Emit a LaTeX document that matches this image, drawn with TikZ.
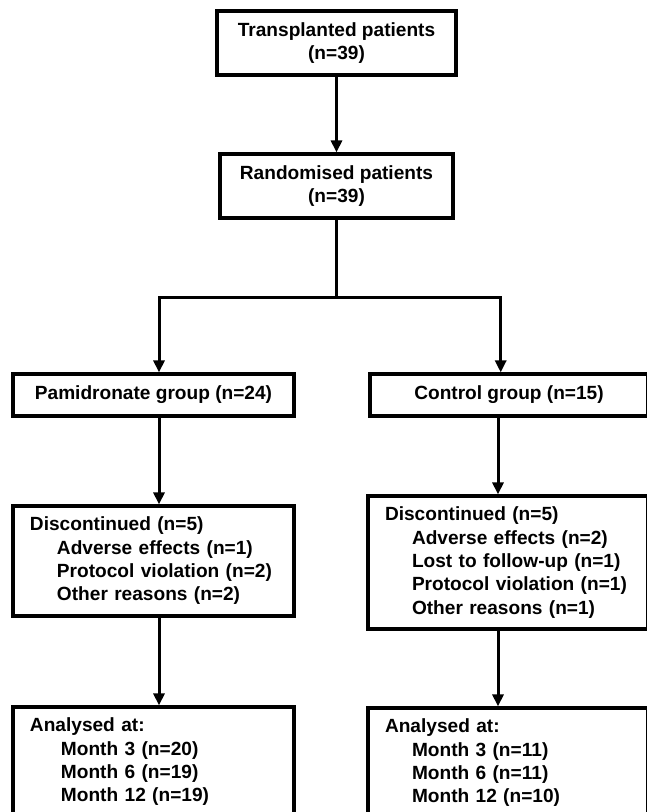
\documentclass[tikz,border=0pt]{standalone}
\usepackage{fontspec}
\setmainfont{Liberation Sans}
\usepackage{tikz}
\usetikzlibrary{shapes}
\usetikzlibrary{arrows.meta}

\begin{document}
\begin{tikzpicture}[x=1pt,y=-1pt]
	\tikzset{box/.style = {shape=rectangle,draw,line width=3.2pt,
			inner sep = 0pt,
			font=\fontsize{19.1}{23.3}\selectfont\bfseries}}
	\tikzset{listbox/.style = {box,align=left,text width=#1}}
	\tikzset{edge/.style = {-{Triangle[length=12pt,width=11pt]}, line width=3pt}}
	\tikzset{trunk/.style = {line width=3pt}}
	
	\useasboundingbox (0,0) rectangle (647,812);
	\clip (0,0) rectangle (647,812);
	
	% vertices
	\node[box, minimum width=239pt, minimum height=64pt, align=center] (trans) at (336.5,43) {Transplanted patients\\(n=39)};
	\node[box, minimum width=233pt, minimum height=64pt, align=center] (rand) at (336.5,186) {Randomised patients\\(n=39)};
	
	\node[box, minimum width=281pt, minimum height=42pt] (pam) at (153.5,395) {Pamidronate group (n=24)};
	\node[box, minimum width=278pt, minimum height=42pt] (ctrl) at (509,395) {Control group (n=15)};
	
	\node[listbox=247pt, minimum width=281pt, minimum height=110pt] (pamdisc) at (153.5,561)
	{Discontinued (n=5)\\
		\hspace*{27pt}Adverse effects (n=1)\\
		\hspace*{27pt}Protocol violation (n=2)\\
		\hspace*{27pt}Other reasons (n=2)};
	\node[listbox=246pt, minimum width=280pt, minimum height=133pt] (ctrldisc) at (508,562.5)
	{Discontinued (n=5)\\
		\hspace*{27pt}Adverse effects (n=2)\\
		\hspace*{27pt}Lost to follow-up (n=1)\\
		\hspace*{27pt}Protocol violation (n=1)\\
		\hspace*{27pt}Other reasons (n=1)};
	
	\node[listbox=247pt, minimum width=281pt, minimum height=110pt] (pamana) at (153.5,762)
	{Analysed at:\\
		\hspace*{31pt}Month 3 (n=20)\\
		\hspace*{31pt}Month 6 (n=19)\\
		\hspace*{31pt}Month 12 (n=19)};
	\node[listbox=246pt, minimum width=280pt, minimum height=110pt] (ctrlana) at (508,763)
	{Analysed at:\\
		\hspace*{27pt}Month 3 (n=11)\\
		\hspace*{27pt}Month 6 (n=11)\\
		\hspace*{27pt}Month 12 (n=10)};
	
	\coordinate (split) at (336.5,297);
	
	%edges
	\draw[edge] (trans) to (rand);
	\draw[trunk] (rand) to (split);
	\draw[edge] (split) -| ([xshift=5.5pt]pam.north);
	\draw[edge] (split) -| ([xshift=-8.3pt]ctrl.north);
	
	\draw[edge] ([xshift=5.5pt]pam.south) to ([xshift=5.5pt]pamdisc.north);
	\draw[edge] ([xshift=5.5pt]pamdisc.south) to ([xshift=5.5pt]pamana.north);
	\draw[edge] ([xshift=-11pt]ctrl.south) to ([xshift=-10pt]ctrldisc.north);
	\draw[edge] ([xshift=-10pt]ctrldisc.south) to ([xshift=-10pt]ctrlana.north);
	
\end{tikzpicture}
\end{document}
